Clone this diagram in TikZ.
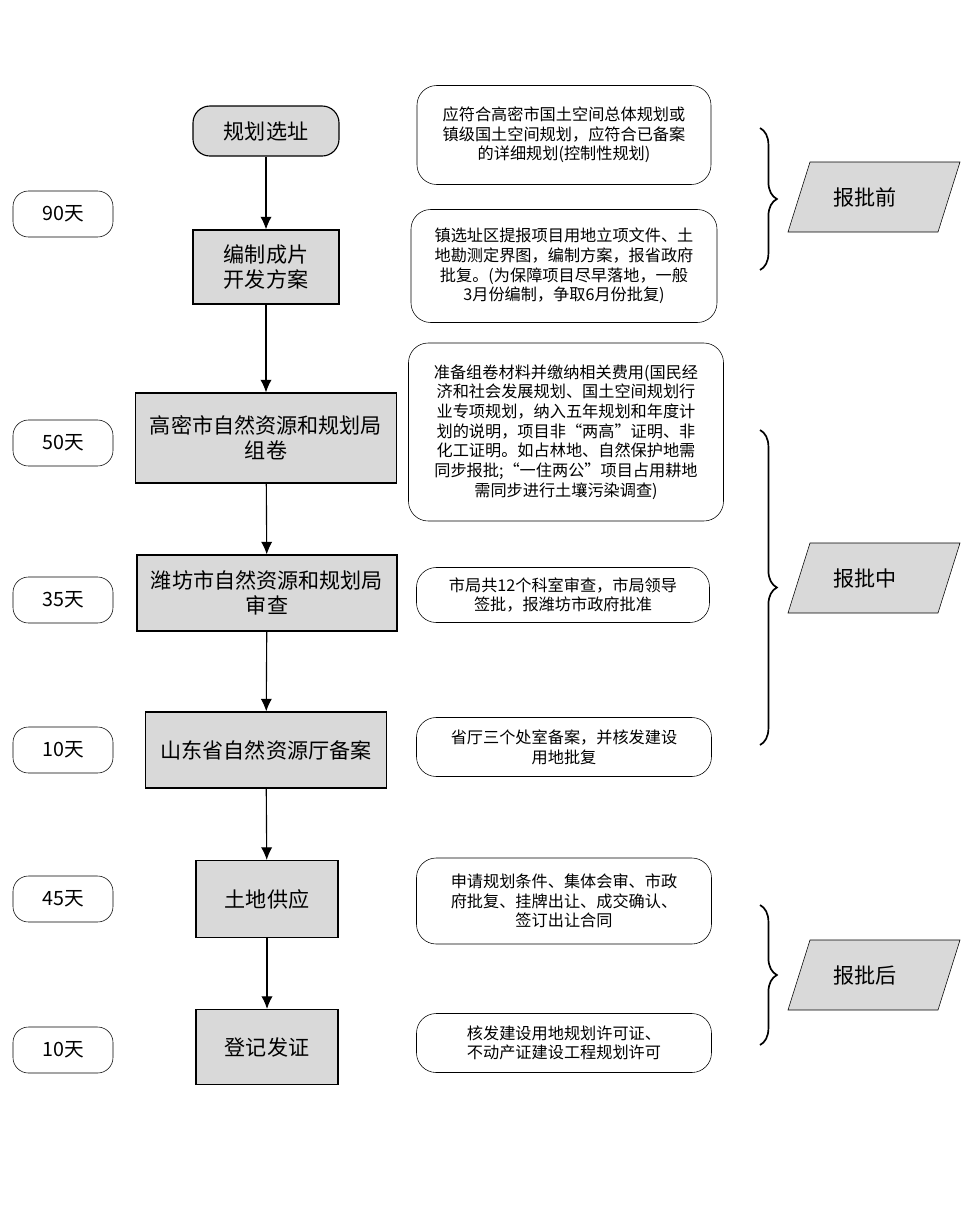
\documentclass[tikz,border=0pt]{standalone}
\usepackage{fontspec}
\setmainfont{Noto Sans CJK SC}
\usetikzlibrary{decorations.pathreplacing,arrows.meta}
\tikzset{
  stepbox/.style={draw, thick, fill=gray!30, align=center, font=\fontsize{15}{18}\selectfont},
  daybox/.style={draw, rounded corners=11pt, minimum width=100*0.025cm, minimum height=46*0.025cm, font=\fontsize{14}{16}\selectfont},
  notebox/.style={draw, rounded corners=14pt, align=center, font=\fontsize{11.5}{14}\selectfont},
  stagefill/.style={draw, fill=gray!30},
  stagetext/.style={font=\fontsize{15}{18}\selectfont},
  flow/.style={-{Latex[length=9pt,width=8pt]}, thick},
  curly/.style={decorate, decoration={brace, amplitude=12pt}, very thick}
}
\newcommand{\stage}[3]{% name, y centre, label
  \draw [stagefill] (#2) ++(-55,-35) -- ++(150,0) -- ++(-22,70) -- ++(-150,0) -- cycle;
  \node [stagetext] (#1) at (#2) {#3};
}
\begin{document}
\begin{tikzpicture}[x=0.025cm, y=-0.025cm]
\useasboundingbox (0,0) rectangle (963,1205);
% steps
\node [stepbox, rounded corners=12pt, minimum width=146*0.025cm, minimum height=50*0.025cm] (s1) at (266,131) {规划选址};
\node [stepbox, minimum width=146*0.025cm, minimum height=74*0.025cm] (s2) at (266,267) {编制成片\\开发方案};
\node [stepbox, minimum width=261*0.025cm, minimum height=90*0.025cm] (s3) at (266,438) {高密市自然资源和规划局\\组卷};
\node [stepbox, minimum width=260*0.025cm, minimum height=76*0.025cm] (s4) at (267,593) {潍坊市自然资源和规划局\\审查};
\node [stepbox, minimum width=241*0.025cm, minimum height=76*0.025cm] (s5) at (266,750) {山东省自然资源厅备案};
\node [stepbox, minimum width=142*0.025cm, minimum height=77*0.025cm] (s6) at (267,899) {土地供应};
\node [stepbox, minimum width=142*0.025cm, minimum height=75*0.025cm] (s7) at (267,1047) {登记发证};
\foreach \a/\b in {s1/s2, s2/s3, s3/s4, s4/s5, s5/s6, s6/s7}
  \draw [flow] (\a) -- (\b);
% days
\node [daybox] (d1) at (63,214) {90天};
\node [daybox] (d2) at (63,443) {50天};
\node [daybox] (d3) at (63,600) {35天};
\node [daybox] (d4) at (63,750) {10天};
\node [daybox] (d5) at (63,899) {45天};
\node [daybox] (d6) at (63,1050) {10天};
% notes
\node [notebox, minimum width=294*0.025cm, minimum height=99*0.025cm] (n1) at (564,135) {应符合高密市国土空间总体规划或\\镇级国土空间规划，应符合已备案\\的详细规划(控制性规划)};
\node [notebox, minimum width=306*0.025cm, minimum height=113*0.025cm] (n2) at (564,266) {镇选址区提报项目用地立项文件、土\\地勘测定界图，编制方案，报省政府\\批复。(为保障项目尽早落地，一般\\3月份编制，争取6月份批复)};
\node [notebox, minimum width=315*0.025cm, minimum height=178*0.025cm] (n3) at (566,432) {准备组卷材料并缴纳相关费用(国民经\\济和社会发展规划、国土空间规划行\\业专项规划，纳入五年规划和年度计\\划的说明，项目非“两高”证明、非\\化工证明。如占林地、自然保护地需\\同步报批;“一住两公”项目占用耕地\\需同步进行土壤污染调查)};
\node [notebox, minimum width=293*0.025cm, minimum height=55*0.025cm] (n4) at (563,595) {市局共12个科室审查，市局领导\\签批，报潍坊市政府批准};
\node [notebox, minimum width=295*0.025cm, minimum height=59*0.025cm] (n5) at (564,747) {省厅三个处室备案，并核发建设\\用地批复};
\node [notebox, minimum width=295*0.025cm, minimum height=86*0.025cm] (n6) at (564,901) {申请规划条件、集体会审、市政\\府批复、挂牌出让、成交确认、\\签订出让合同};
\node [notebox, minimum width=295*0.025cm, minimum height=59*0.025cm] (n7) at (564,1043) {核发建设用地规划许可证、\\不动产证建设工程规划许可};
% stages
\coordinate (b1t) at (760,128); \coordinate (b1b) at (760,270);
\coordinate (b2t) at (760,430); \coordinate (b2b) at (760,745);
\coordinate (b3t) at (760,905); \coordinate (b3b) at (760,1045);
\draw [curly] (b1t) -- (b1b);
\draw [curly] (b2t) -- (b2b);
\draw [curly] (b3t) -- (b3b);
\coordinate (c1) at (865,197);
\coordinate (c2) at (865,578);
\coordinate (c3) at (865,975);
\stage{g1}{c1}{报批前}
\stage{g2}{c2}{报批中}
\stage{g3}{c3}{报批后}
\end{tikzpicture}
\end{document}
